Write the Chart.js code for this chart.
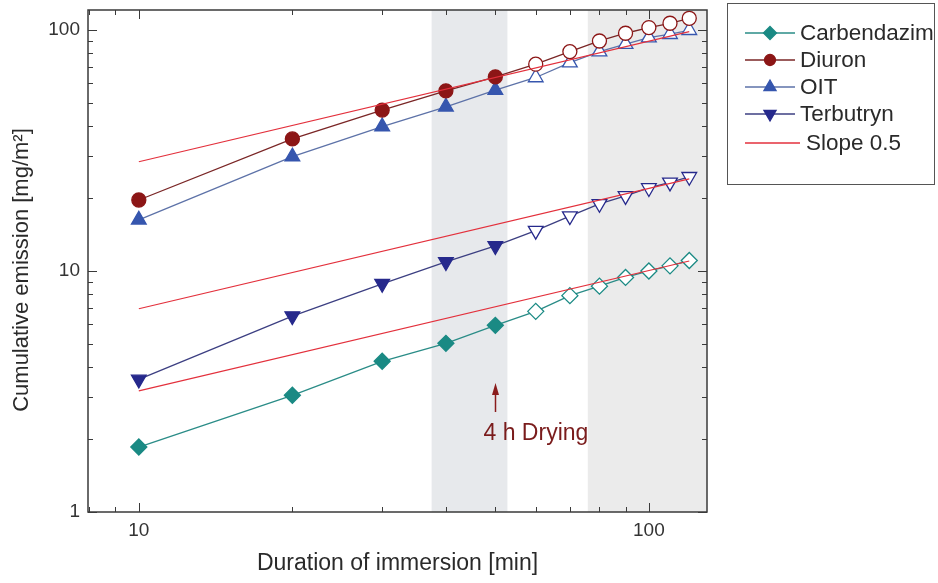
<!DOCTYPE html>
<html>
<head>
<meta charset="utf-8">
<script src="https://cdn.jsdelivr.net/npm/chart.js@4.4.1/dist/chart.umd.min.js"></script>
<style>
  html, body { margin: 0; padding: 0; background: #fff; }
  #wrap { width: 938px; height: 583px; }
</style>
</head>
<body>
<div id="wrap"><canvas id="grafico" width="938" height="583"></canvas></div>
<script>
// dados
const tempos = [10, 20, 30, 40, 50, 60, 70, 80, 90, 100, 110, 120];
const carbendazim = [1.86, 3.05, 4.22, 5.01, 5.95, 6.8, 7.9, 8.65, 9.4, 10.0, 10.5, 11.05];
const diuron = [19.7, 35.3, 46.5, 55.9, 63.9, 72.1, 81.3, 90.0, 96.9, 102.3, 106.6, 111.8];
const oit = [16.3, 29.8, 39.7, 48.0, 56.3, 63.5, 73.2, 81.3, 87.3, 92.9, 96.0, 99.7];
const terbutryn = [3.55, 6.5, 8.85, 10.9, 12.7, 14.7, 16.9, 19.0, 20.5, 22.1, 23.3, 24.6];
const nPreenchidos = 5; // até 50 min símbolos cheios, depois vazios

// retas de inclinação 0.5 (extremos em 10 e 120 min)
const retaX = [10, 120];
const reta1 = [28.4, 98.4];
const reta2 = [6.97, 24.1];
const reta3 = [3.18, 11.0];

// faixas de secagem (cinza)
const faixas = [[37.5, 52.8], [75.9, 130]];
const setaX = 50;
const setaTexto = "4 h Drying";

const xTicks = [10, 100];
const yTicks = [1, 10, 100];

const fonte = '"Liberation Sans", Arial, sans-serif';

function pontos(ys) {
    return tempos.map((t, i) => ({ x: t, y: ys[i] }));
}
function fundo(cor) {
    return tempos.map((t, i) => i < nPreenchidos ? cor : '#ffffff');
}

function serie(nome, ys, corLinha, corMarca, estilo, raio, rot) {
    return {
        label: nome,
        data: pontos(ys),
        borderColor: corLinha,
        borderWidth: 1.3,
        pointStyle: estilo,
        pointRotation: rot || 0,
        pointRadius: raio,
        pointHoverRadius: raio,
        pointBackgroundColor: fundo(corMarca),
        pointBorderColor: corMarca,
        pointBorderWidth: 1.3,
        marca: corMarca,
        tension: 0
    };
}

function reta(ys) {
    return {
        label: 'Slope 0.5',
        data: retaX.map((x, i) => ({ x: x, y: ys[i] })),
        borderColor: '#e3303c',
        borderWidth: 1.2,
        pointRadius: 0,
        tension: 0
    };
}

const datasets = [
    reta(reta1), reta(reta2), reta(reta3),
    serie('Carbendazim', carbendazim, '#2a8c87', '#1a8a84', 'rectRot', 8),
    serie('Diuron', diuron, '#7a2626', '#8c1616', 'circle', 7),
    serie('OIT', oit, '#5d72a8', '#3656ae', 'triangle', 8.5),
    serie('Terbutryn', terbutryn, '#3c3f82', '#26298c', 'triangle', 8.5, 180)
];

// plugin para faixas, eixos, legenda e anotação
const extras = {
    id: 'extras',
    beforeDatasetsDraw(chart) {
        const c = chart.ctx, a = chart.chartArea, xs = chart.scales.x;
        c.save();
        faixas.forEach((f, i) => {
            const x1 = xs.getPixelForValue(f[0]);
            const x2 = Math.min(xs.getPixelForValue(f[1]), a.right);
            c.fillStyle = i === 0 ? '#e7e9ec' : '#ebebeb';
            c.fillRect(x1, a.top, x2 - x1, a.bottom - a.top);
        });
        c.restore();
    },
    afterDraw(chart) {
        const c = chart.ctx, a = chart.chartArea;
        const xs = chart.scales.x, ys = chart.scales.y;
        c.save();
        // moldura
        c.strokeStyle = '#3a3a3a';
        c.lineWidth = 1.5;
        c.strokeRect(a.left, a.top, a.right - a.left, a.bottom - a.top);

        c.lineWidth = 1;
        // ticks x (baixo e cima)
        for (let d = 1; d <= 2; d++) {
            for (let m = 1; m <= 9; m++) {
                const v = m * Math.pow(10, d);
                if (v < xs.min || v > xs.max) continue;
                const px = Math.round(xs.getPixelForValue(v)) + 0.5;
                const len = m === 1 ? 9 : 5;
                c.beginPath();
                c.moveTo(px, a.bottom); c.lineTo(px, a.bottom - len);
                c.moveTo(px, a.top); c.lineTo(px, a.top + len);
                c.stroke();
            }
        }
        for (let v = 8; v < 10; v++) {
            const px = Math.round(xs.getPixelForValue(v)) + 0.5;
            c.beginPath();
            c.moveTo(px, a.bottom); c.lineTo(px, a.bottom - 5);
            c.moveTo(px, a.top); c.lineTo(px, a.top + 5);
            c.stroke();
        }
        // ticks y (esquerda e direita)
        for (let d = 0; d <= 2; d++) {
            for (let m = 1; m <= 9; m++) {
                const v = m * Math.pow(10, d);
                if (v < ys.min || v > ys.max) continue;
                const py = Math.round(ys.getPixelForValue(v)) + 0.5;
                const len = m === 1 ? 9 : 5;
                c.beginPath();
                c.moveTo(a.left, py); c.lineTo(a.left + len, py);
                c.moveTo(a.right, py); c.lineTo(a.right - len, py);
                c.stroke();
            }
        }
        // rótulos
        c.fillStyle = '#333';
        c.font = '19px ' + fonte;
        c.textAlign = 'center';
        c.textBaseline = 'top';
        xTicks.forEach(v => c.fillText(String(v), xs.getPixelForValue(v), a.bottom + 9));
        c.textAlign = 'right';
        c.textBaseline = 'middle';
        yTicks.forEach(v => c.fillText(String(v), a.left - 8, ys.getPixelForValue(v)));

        c.fillStyle = '#2a2a2a';
        c.textAlign = 'center';
        c.textBaseline = 'middle';
        c.font = '23px ' + fonte;
        c.fillText('Duration of immersion [min]', (a.left + a.right) / 2, 564);
        c.save();
        c.translate(22, 270);
        c.rotate(-Math.PI / 2);
        c.font = '22px ' + fonte;
        c.fillText('Cumulative emission [mg/m\u00B2]', 0, 0);
        c.restore();

        // seta "4 h Drying"
        const ax = Math.round(xs.getPixelForValue(setaX)) + 0.5;
        c.strokeStyle = '#8a1c1c';
        c.fillStyle = '#8a1c1c';
        c.lineWidth = 1.5;
        c.beginPath();
        c.moveTo(ax, 412); c.lineTo(ax, 392); c.stroke();
        c.beginPath();
        c.moveTo(ax, 383); c.lineTo(ax - 3.5, 395); c.lineTo(ax + 3.5, 395); c.closePath(); c.fill();
        c.fillStyle = '#7a1c1c';
        c.font = '23px ' + fonte;
        c.textAlign = 'left';
        c.fillText(setaTexto, ax - 12, 434);

        // legenda
        c.strokeStyle = '#555';
        c.lineWidth = 1;
        c.strokeRect(727.5, 3.5, 207, 181);
        const linhas = [33, 60, 87, 114, 143];
        const itens = chart.data.datasets.slice(3).concat([chart.data.datasets[0]]);
        itens.forEach((ds, i) => {
            const y = linhas[i];
            c.strokeStyle = ds.borderColor;
            c.lineWidth = 1.3;
            c.beginPath();
            c.moveTo(745, y); c.lineTo(i < 4 ? 795 : 800, y); c.stroke();
            if (i < 4) {
                c.fillStyle = ds.marca;
                c.strokeStyle = ds.marca;
                Chart.helpers.drawPoint(c, {
                    pointStyle: ds.pointStyle,
                    radius: ds.pointRadius - 1.5,
                    rotation: ds.pointRotation,
                    borderWidth: 1
                }, 770, y);
            }
            c.fillStyle = '#2a2a2a';
            c.font = '22.5px ' + fonte;
            c.textAlign = 'left';
            c.textBaseline = 'middle';
            c.fillText(ds.label, i < 4 ? 800 : 806, y + 1);
        });
        c.restore();
    }
};

const grafico = new Chart(document.getElementById('grafico'), {
    type: 'line',
    data: { datasets: datasets },
    options: {
        responsive: false,
        animation: false,
        layout: { padding: { left: 88, right: 231, top: 10, bottom: 71 } },
        plugins: { legend: { display: false }, tooltip: { enabled: false } },
        scales: {
            x: { type: 'logarithmic', min: 7.95, max: 130, display: false },
            y: { type: 'logarithmic', min: 1, max: 121, display: false }
        }
    },
    plugins: [extras]
});
</script>
</body>
</html>
